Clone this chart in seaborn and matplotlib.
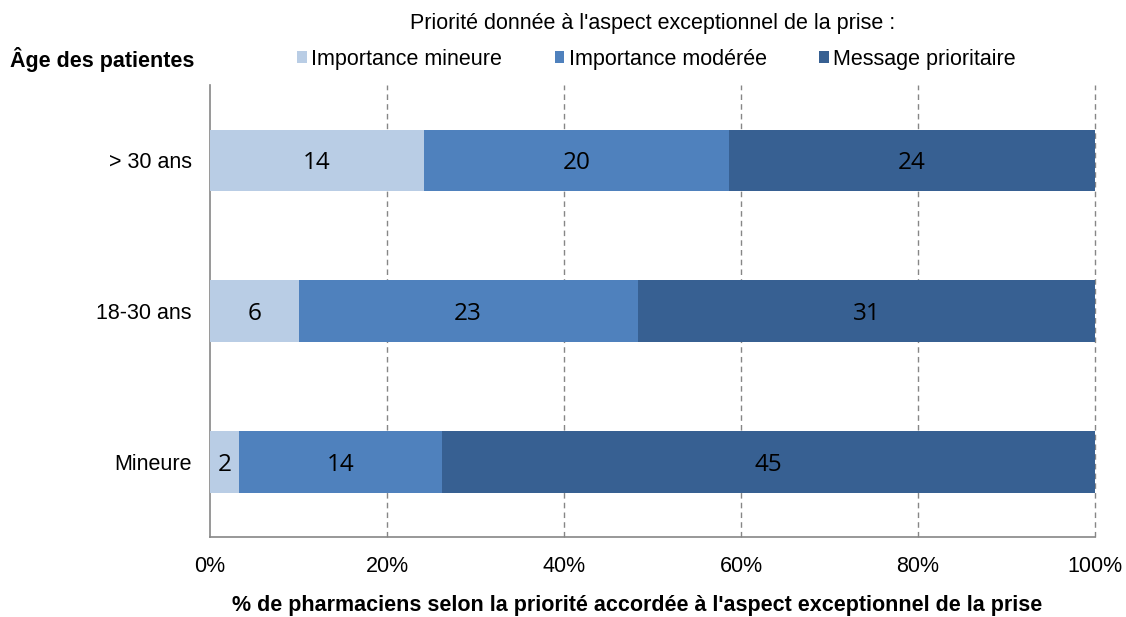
import numpy as np
import pandas as pd
import seaborn as sns
import matplotlib.pyplot as plt
from matplotlib.patches import Patch

ages = ["> 30 ans", "18-30 ans", "Mineure"]
mineure = [14, 6, 2]
moderee = [20, 23, 14]
prioritaire = [24, 31, 45]
series = ["Importance mineure", "Importance modérée", "Message prioritaire"]
colors = ["#B9CDE5", "#4F81BD", "#376092"]

sns.set_style("white")
plt.rcParams['font.family'] = ['Liberation Sans', 'DejaVu Sans']
plt.rcParams['text.color'] = 'black'
plt.rcParams['xtick.labelcolor'] = 'black'
plt.rcParams['ytick.labelcolor'] = 'black'
fs = 15.5

df = pd.DataFrame({"age": ages, series[0]: mineure, series[1]: moderee, series[2]: prioritaire})
tot = df[series].sum(axis=1)
pct = df[series].div(tot, axis=0) * 100
cum = pct.cumsum(axis=1)

fig = plt.figure(figsize=(11.26, 6.17), dpi=100)
ax = fig.add_axes([0.1865, 0.1297, 0.7860, 0.7323])

# stacked by overlaying cumulative bars, largest first
for s, c in zip(series[::-1], colors[::-1]):
    sns.barplot(x=cum[s], y=df["age"], orient="h", color=c, width=0.41,
                saturation=1, linewidth=0, ax=ax, zorder=3)

for i in range(len(ages)):
    left = 0
    for s in series:
        w = pct.loc[i, s]
        ax.text(left + w / 2, i + 0.02, str(df.loc[i, s]), ha="center", va="center",
                fontsize=17.5, family=["Open Sans", "DejaVu Sans"], color="black", zorder=4)
        left += w

ax.set_xlim(0, 100)
ax.set_ylim(2.5, -0.5)
ax.set_xticks(np.arange(0, 101, 20))
ax.set_xticklabels([f"{v}%" for v in range(0, 101, 20)], fontsize=fs)
ax.tick_params(axis="x", direction="out", length=5, color="#868686", pad=9)
ax.set_yticks(range(3))
ax.set_yticklabels(ages, fontsize=fs)
ax.tick_params(axis="y", length=0, pad=13)
ax.set_yticks([-0.5, 0.5, 1.5, 2.5], minor=True)
ax.tick_params(axis="y", which="minor", direction="out", length=4, color="#868686")
for v in range(20, 101, 20):
    ax.axvline(v, color="#868686", linestyle=(0, (4, 3)), linewidth=1, zorder=1, clip_on=False)
for sp in ["top", "right"]:
    ax.spines[sp].set_visible(False)
for sp in ["left", "bottom"]:
    ax.spines[sp].set_color("#868686")
    ax.spines[sp].set_linewidth(1.2)
ax.set_xlabel("")
ax.set_ylabel("")

fig.text(0.566, 0.018, "% de pharmaciens selon la priorité accordée à l'aspect exceptionnel de la prise",
         ha="center", va="center", fontsize=fs, fontweight="bold")
fig.text(0.580, 0.962, "Priorité donnée à l'aspect exceptionnel de la prise :",
         ha="center", va="center", fontsize=fs)
fig.text(0.009, 0.903, "Âge des patientes", ha="left", va="center", fontsize=fs, fontweight="bold")
handles = [Patch(facecolor=c, edgecolor="none") for c in colors]
fig.legend(handles, series, loc="center", bbox_to_anchor=(0.583, 0.904), ncol=3,
           frameon=False, fontsize=fs, handlelength=0.45, handleheight=0.45,
           handletextpad=0.2, columnspacing=2.45, borderpad=0)

fig.savefig("out.png", dpi=100)
